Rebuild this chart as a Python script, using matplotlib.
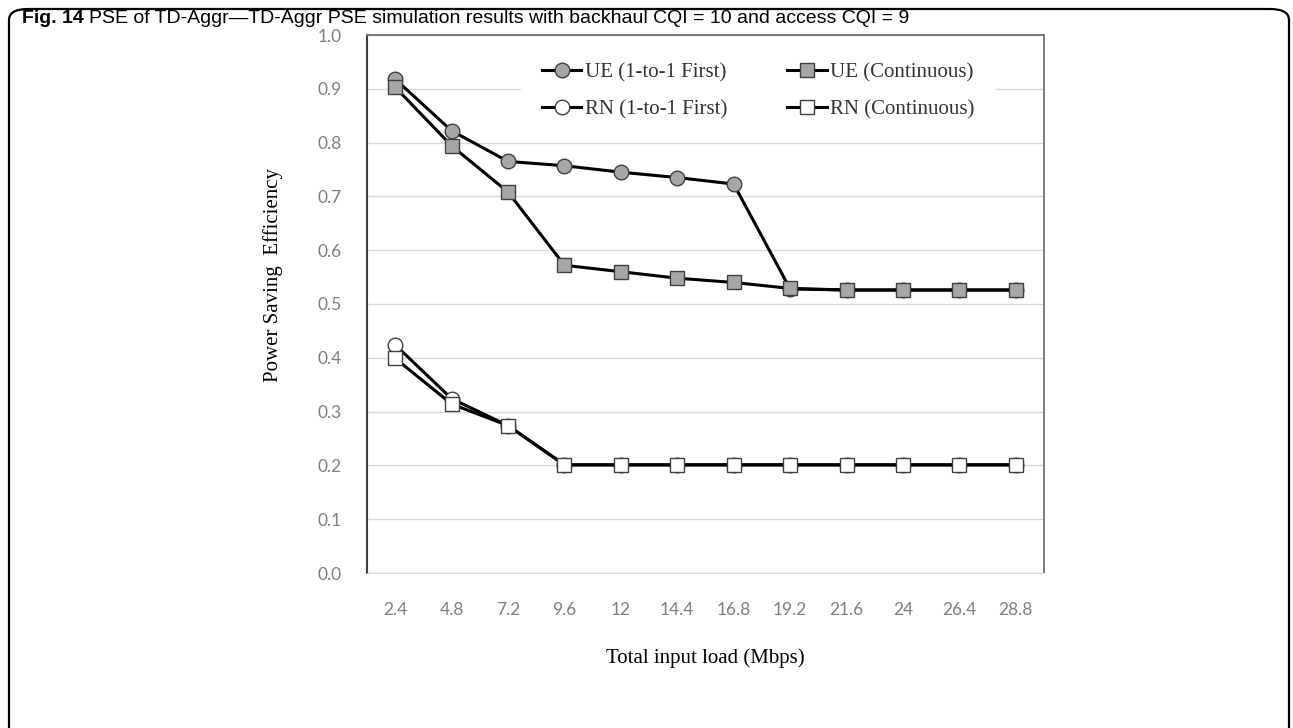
import matplotlib.pyplot as plt
from matplotlib.patches import FancyBboxPatch

# Total input load (Mbps)
loads = ['2.4', '4.8', '7.2', '9.6', '12', '14.4', '16.8', '19.2', '21.6', '24', '26.4', '28.8']

# power saving efficiency of each scheme
ue_first = [0.918, 0.822, 0.765, 0.757, 0.745, 0.735, 0.723, 0.528, 0.526, 0.526, 0.526, 0.526]
ue_cont = [0.903, 0.794, 0.708, 0.572, 0.560, 0.548, 0.540, 0.529, 0.526, 0.526, 0.526, 0.526]
rn_first = [0.424, 0.324, 0.274, 0.201, 0.201, 0.201, 0.201, 0.201, 0.201, 0.201, 0.201, 0.201]
rn_cont = [0.399, 0.314, 0.274, 0.201, 0.201, 0.201, 0.201, 0.201, 0.201, 0.201, 0.201, 0.201]

series = [
    ('UE (1-to-1 First)', ue_first, 'o', '#a6a6a6'),
    ('UE (Continuous)', ue_cont, 's', '#a6a6a6'),
    ('RN (1-to-1 First)', rn_first, 'o', 'white'),
    ('RN (Continuous)', rn_cont, 's', 'white'),
]

W, H = 1293, 728
fig = plt.figure(figsize=(W / 100, H / 100), dpi=100)

# rounded frame around the figure panel
frame = FancyBboxPatch((9 / W, -0.05), 1280 / W, (H - 9) / H + 0.05,
                       boxstyle='round,pad=0,rounding_size=0.015',
                       transform=fig.transFigure, fill=False, lw=1.6,
                       ec='black', zorder=0)
fig.patches.append(frame)

left, right, top, bottom = 367, 1044, 35, 573
ax = fig.add_axes([left / W, 1 - bottom / H, (right - left) / W, (bottom - top) / H])

x = list(range(len(loads)))
handles = {}
for name, vals, mk, fc in series:
    h, = ax.plot(x, vals, color='black', lw=2.2, marker=mk, ms=10.5,
                 mfc=fc, mec='#404040', mew=1.0, label=name, zorder=3)
    handles[name] = h

ax.set_xlim(-0.5, len(loads) - 0.5)
ax.set_ylim(0, 1.0)
ax.set_yticks([i / 10 for i in range(11)])
ax.set_yticklabels([f'{i / 10:.1f}' for i in range(11)])
ax.set_xticks(x)
ax.set_xticklabels(loads)
ax.tick_params(length=0, labelsize=12.5, labelcolor='#7f7f7f')
ax.tick_params(axis='x', pad=21)
ax.tick_params(axis='y', pad=18)
for lab in ax.get_xticklabels() + ax.get_yticklabels():
    lab.set_family('Lato')

ax.grid(axis='y', color='#d9d9d9', lw=1.0, zorder=0)
ax.set_axisbelow(True)
ax.spines['left'].set_color('#404040')
ax.spines['left'].set_linewidth(1.5)
ax.spines['top'].set_color('#707070')
ax.spines['right'].set_color('#707070')
ax.spines['top'].set_linewidth(1.3)
ax.spines['right'].set_linewidth(1.3)
ax.spines['bottom'].set_color('#d9d9d9')

ax.set_xlabel('Total input load (Mbps)', family='Liberation Serif', fontsize=15,
              labelpad=22)
ax.set_ylabel('Power Saving  Efficiency', family='Liberation Serif', fontsize=15)
ax.yaxis.set_label_coords(-0.124, 0.554)

order = ['UE (1-to-1 First)', 'RN (1-to-1 First)', 'UE (Continuous)', 'RN (Continuous)']
leg = ax.legend([handles[n] for n in order], order, ncol=2, loc='upper left',
                bbox_to_anchor=(0.2275, 0.987), borderaxespad=0, borderpad=1.0,
                frameon=True, framealpha=1, edgecolor='white', fancybox=False,
                handlelength=1.9, handletextpad=0.15, columnspacing=2.9,
                labelspacing=0.85,
                prop={'family': 'Liberation Serif', 'size': 15})
for t in leg.get_texts():
    t.set_color('#333333')

# caption
fam = ['Liberation Sans', 'DejaVu Sans']
t1 = fig.text(22 / W, 1 - 23 / H, 'Fig. 14', fontsize=14, weight='bold',
              family=fam, va='baseline', zorder=5)
fig.canvas.draw()
bb = t1.get_window_extent()
fig.text((bb.x1 + 5) / W, 1 - 23 / H,
         'PSE of TD-Aggr\u2014TD-Aggr PSE simulation results with backhaul CQI = 10 and access CQI = 9',
         fontsize=14, family=fam, va='baseline', zorder=5)

fig.savefig('out.png', dpi=100)
